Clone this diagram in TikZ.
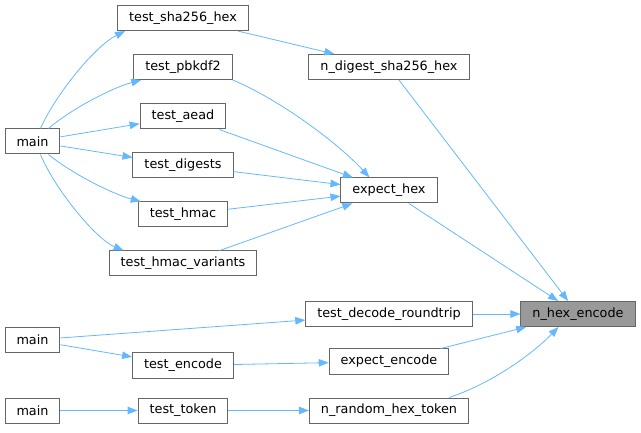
\documentclass[tikz,border=0pt]{standalone}
\usepackage{fontspec}
\setmainfont{DejaVu Sans}
\usetikzlibrary{arrows.meta}
\begin{document}
\begin{tikzpicture}[
      x=1pt, y=-1pt,
      fn/.style={draw=black!60, line width=1pt, fill=white,
        minimum height=25pt, inner xsep=11.5pt, inner ysep=0pt,
        font=\fontsize{12.8}{15}\selectfont},
      hit/.style={fn, fill=black!40},
      call/.style={draw={rgb,255:red,99;green,184;blue,255}, line width=0.8pt,
        -{Triangle[length=10pt,width=7.5pt,fill={rgb,255:red,99;green,184;blue,255}]}},
    ]
    \useasboundingbox (0,0) rectangle (641,433);
    % left column
    \node[fn] (mainA) at (32.5,141.5) {main};
    \node[fn] (mainB) at (32.5,340) {main};
    \node[fn] (mainC) at (32.5,410.5) {main};
    % tests
    \node[fn] (sha) at (183,18) {test\_sha256\_hex};
    \node[fn] (pbkdf) at (183,67) {test\_pbkdf2};
    \node[fn] (aead) at (183,116.5) {test\_aead};
    \node[fn] (digests) at (183,165.5) {test\_digests};
    \node[fn] (hmac) at (183,214.5) {test\_hmac};
    \node[fn] (hmacvar) at (183,263.5) {test\_hmac\_variants};
    \node[fn] (encode) at (183,365.5) {test\_encode};
    \node[fn] (ttoken) at (183,410.5) {test\_token};
    % helpers
    \node[fn] (digest) at (389,67) {n\_digest\_sha256\_hex};
    \node[fn] (exphex) at (389,190.5) {expect\_hex};
    \node[fn] (roundtrip) at (389,314) {test\_decode\_roundtrip};
    \node[fn] (expenc) at (389,361.5) {expect\_encode};
    \node[fn] (rtoken) at (389,410.5) {n\_random\_hex\_token};
    \node[hit] (hexenc) at (578,314) {n\_hex\_encode};

    \draw[call] ([xshift=8pt]mainA.north) .. controls +(15,-34) and +(-30,15) .. ([xshift=8pt]sha.south west);
    \draw[call] ([xshift=16pt]mainA.north) .. controls +(22,-19) and +(-30,8) .. ([xshift=8pt]pbkdf.south west);
    \draw[call] (mainA) -- (aead);
    \draw[call] (mainA) -- (digests);
    \draw[call] ([xshift=16pt]mainA.south) .. controls +(22,18) and +(-30,-8) .. ([xshift=3pt]hmac.north west);
    \draw[call] ([xshift=8pt]mainA.south) .. controls +(15,36) and +(-27,-11) .. ([xshift=15pt]hmacvar.north west);
    \draw[call] (sha) -- (digest);
    \draw[call] (pbkdf.south east) .. controls +(48,20) and +(-30,-33) .. ([xshift=29pt]exphex.north west);
    \draw[call] (aead) -- (exphex);
    \draw[call] (digests) -- (exphex);
    \draw[call] (hmac) -- (exphex);
    \draw[call] (hmacvar) -- (exphex);
    \draw[call] (digest) -- (hexenc);
    \draw[call] (exphex) -- (hexenc);
    \draw[call] (roundtrip) -- (hexenc);
    \draw[call] (expenc) -- (hexenc);
    \draw[call] ([xshift=-20pt]rtoken.north east) .. controls +(40,-13) and +(-28,29) .. ([xshift=38pt]hexenc.south west);
    \draw[call] (mainB) -- (roundtrip);
    \draw[call] (mainB) -- (encode);
    \draw[call] (encode) -- (expenc);
    \draw[call] (mainC) -- (ttoken);
    \draw[call] (ttoken) -- (rtoken);
\end{tikzpicture}
\end{document}
